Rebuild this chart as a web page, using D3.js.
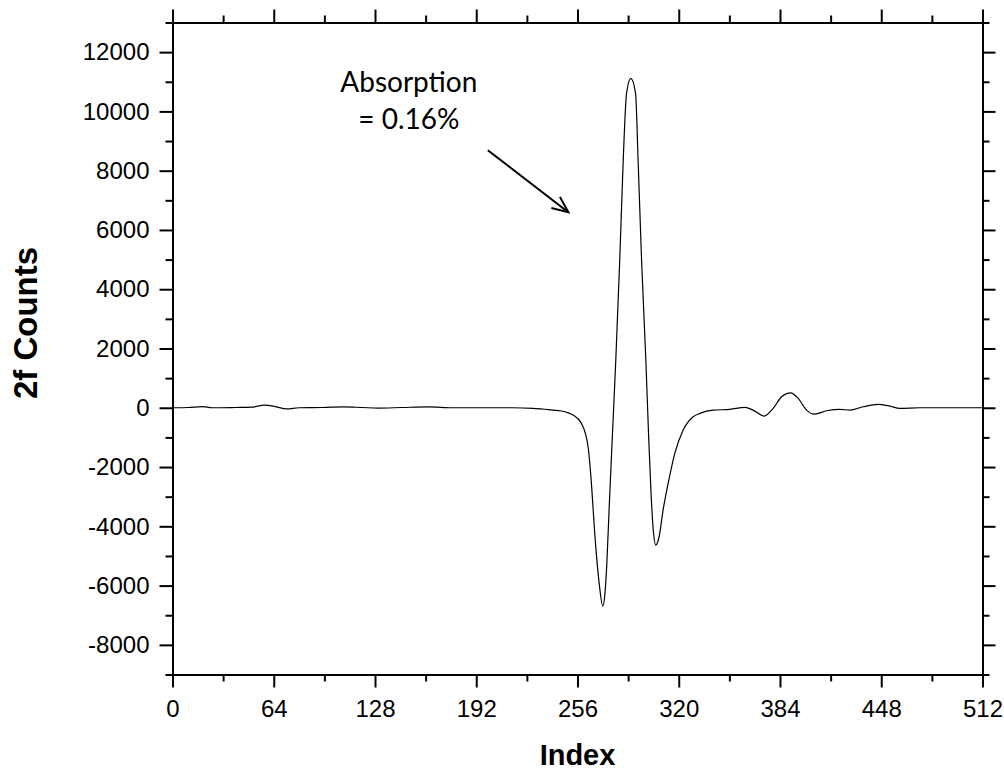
<!DOCTYPE html>
<html>
<head>
<meta charset="utf-8">
<script src="https://cdn.jsdelivr.net/npm/d3@7"></script>
<style>
  html, body { margin: 0; padding: 0; background: #fff; }
  svg { display: block; }
</style>
</head>
<body>
<script>
// ---- data ----
const indexValues = [0, 10, 19, 25, 40, 50, 58, 65, 72, 80, 95, 108, 120, 130, 145, 162, 177, 200, 215, 228, 235, 240.6, 245, 251, 253.3, 258.5, 262.7, 264.8, 266.9, 269.7, 272, 273.3, 274.5, 276, 278, 280.2, 282.7, 284.9, 287, 289.7, 292.7, 294.3, 296.5, 299.2, 301, 302.5, 304, 305.5, 307.6, 310.1, 313.3, 317.5, 322.8, 329.1, 333.4, 341.7, 352.3, 361.8, 367, 374, 379.7, 385, 390.7, 395.5, 400.8, 405.7, 413.5, 421.9, 428.2, 436.6, 446, 453.4, 459.7, 472.3, 512];
const countValues = [0, 10, 40, 0, 10, 20, 90, 40, -40, 0, 10, 30, 10, -10, 10, 30, 0, 0, 0, -20, -50, -80, -100, -190, -246, -526, -1316, -2551, -4238, -5924, -6690, -6300, -5300, -3400, -1000, 1609, 4983, 8357, 10607, 11113, 10607, 8357, 4983, 1609, -1000, -2900, -4200, -4632, -4352, -3451, -2551, -1538, -752, -304, -189, -78, -54, 13, -78, -280, -20, 371, 506, 317, -78, -213, -101, -54, -78, 34, 115, 57, -20, 0, 0];

const xMajorTicks = [0, 64, 128, 192, 256, 320, 384, 448, 512];
const xMinorTicks = [32, 96, 160, 224, 288, 352, 416, 480];
const yMajorTicks = [-8000, -6000, -4000, -2000, 0, 2000, 4000, 6000, 8000, 10000, 12000];
const yMinorTicks = [-9000, -7000, -5000, -3000, -1000, 1000, 3000, 5000, 7000, 9000, 11000, 13000];

const xTitle = "Index";
const yTitle = "2f Counts";
const annotationLines = ["Absorption", "= 0.16%"];
// annotation anchor (data units) and arrow (from, to) in data units
const annotationAnchor = [149.4, 10650];
const arrowFrom = [199.3, 8690];
const arrowTo = [250.2, 6600];

// ---- layout ----
const W = 1004, H = 770;
const plot = { left: 172.5, right: 982.5, top: 22.5, bottom: 674.5 };

const svg = d3.select("body").append("svg").attr("width", W).attr("height", H);

const x = d3.scaleLinear().domain([0, 512]).range([plot.left, plot.right]);
const y = d3.scaleLinear().domain([-9000, 13000]).range([plot.bottom, plot.top]);

const tickFont = "'Liberation Sans', Arial, sans-serif";
const fmt = d => String(d); // plain hyphen-minus like the reference

function styleAxis(g) {
  g.selectAll("path.domain").attr("stroke", "#000").attr("stroke-width", 2);
  g.selectAll(".tick line").attr("stroke", "#000").attr("stroke-width", 2);
  g.selectAll(".tick text").attr("fill", "#000").attr("font-family", tickFont).attr("font-size", 24);
}

// bottom axis
const gb = svg.append("g").attr("transform", `translate(0,${plot.bottom})`)
  .call(d3.axisBottom(x).tickValues(xMajorTicks).tickSize(13).tickSizeOuter(0).tickPadding(12).tickFormat(fmt));
styleAxis(gb);
const gbm = svg.append("g").attr("transform", `translate(0,${plot.bottom})`)
  .call(d3.axisBottom(x).tickValues(xMinorTicks).tickSize(7).tickSizeOuter(0).tickFormat(""));
styleAxis(gbm);

// top axis
const gt = svg.append("g").attr("transform", `translate(0,${plot.top})`)
  .call(d3.axisTop(x).tickValues(xMajorTicks).tickSize(13).tickSizeOuter(0).tickFormat(""));
styleAxis(gt);
const gtm = svg.append("g").attr("transform", `translate(0,${plot.top})`)
  .call(d3.axisTop(x).tickValues(xMinorTicks).tickSize(7).tickSizeOuter(0).tickFormat(""));
styleAxis(gtm);

// left axis
const gl = svg.append("g").attr("transform", `translate(${plot.left},0)`)
  .call(d3.axisLeft(y).tickValues(yMajorTicks).tickSize(13).tickSizeOuter(0).tickPadding(10).tickFormat(fmt));
styleAxis(gl);
const glm = svg.append("g").attr("transform", `translate(${plot.left},0)`)
  .call(d3.axisLeft(y).tickValues(yMinorTicks).tickSize(7).tickSizeOuter(0).tickFormat(""));
styleAxis(glm);

// right axis
const gr = svg.append("g").attr("transform", `translate(${plot.right},0)`)
  .call(d3.axisRight(y).tickValues(yMajorTicks).tickSize(13).tickSizeOuter(0).tickFormat(""));
styleAxis(gr);
const grm = svg.append("g").attr("transform", `translate(${plot.right},0)`)
  .call(d3.axisRight(y).tickValues(yMinorTicks).tickSize(7).tickSizeOuter(0).tickFormat(""));
styleAxis(grm);

// line
const pts = indexValues.map((v, i) => [v, countValues[i]]);
const line = d3.line().x(d => x(d[0])).y(d => y(d[1])).curve(d3.curveMonotoneX);
svg.append("path").datum(pts)
  .attr("d", line)
  .attr("fill", "none")
  .attr("stroke", "#000")
  .attr("stroke-width", 1.2)
  .attr("stroke-linejoin", "round");

// axis titles
svg.append("text")
  .attr("x", (plot.left + plot.right) / 2)
  .attr("y", 765)
  .attr("text-anchor", "middle")
  .attr("font-family", tickFont)
  .attr("font-weight", "bold")
  .attr("font-size", 29)
  .text(xTitle);

svg.append("text")
  .attr("transform", `translate(37,323) rotate(-90)`)
  .attr("text-anchor", "middle")
  .attr("font-family", tickFont)
  .attr("font-weight", "bold")
  .attr("font-size", 33)
  .text(yTitle);

// annotation
const ax = x(annotationAnchor[0]), ay = y(annotationAnchor[1]);
annotationLines.forEach((t, i) => {
  svg.append("text")
    .attr("x", ax)
    .attr("y", ay + i * 37)
    .attr("text-anchor", "middle")
    .attr("font-family", "Lato, 'Open Sans', sans-serif")
    .attr("font-size", 28)
    .attr("fill", "#000")
    .text(t);
});

svg.append("defs").append("marker")
  .attr("id", "arrowhead")
  .attr("viewBox", "0 0 20 20")
  .attr("refX", 18).attr("refY", 10)
  .attr("markerWidth", 20).attr("markerHeight", 20)
  .attr("markerUnits", "userSpaceOnUse")
  .attr("orient", "auto")
  .append("path")
  .attr("d", "M2,3 L18,10 L2,17")
  .attr("fill", "none")
  .attr("stroke", "#000")
  .attr("stroke-width", 2);

svg.append("line")
  .attr("x1", x(arrowFrom[0])).attr("y1", y(arrowFrom[1]))
  .attr("x2", x(arrowTo[0])).attr("y2", y(arrowTo[1]))
  .attr("stroke", "#000")
  .attr("stroke-width", 2)
  .attr("marker-end", "url(#arrowhead)");
</script>
</body>
</html>
